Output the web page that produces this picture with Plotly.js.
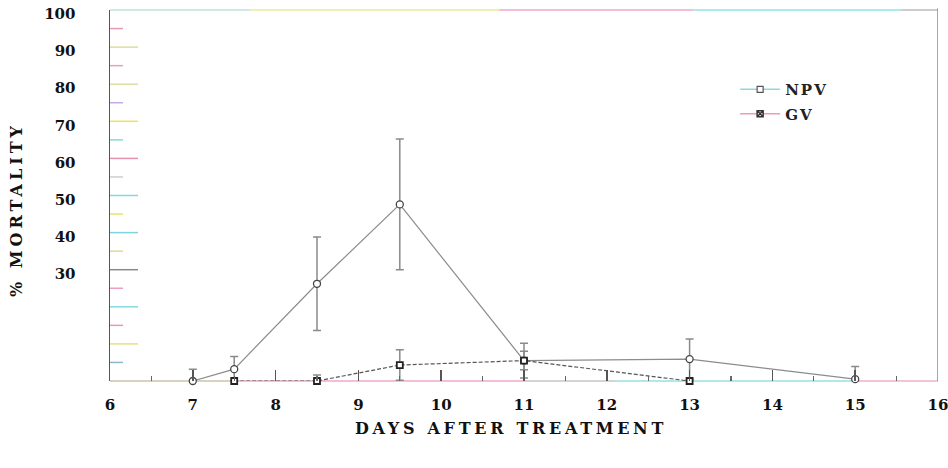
<!DOCTYPE html>
<html>
<head>
<meta charset="utf-8">
<script src="https://cdn.plot.ly/plotly-3.0.1.min.js"></script>
<style>
  html, body { margin: 0; padding: 0; background: #fff; }
  #chart { width: 948px; height: 468px; }
</style>
</head>
<body>
<div id="chart"></div>
<script>
// ---- data ----
const daysNPV = [7, 7.5, 8.5, 9.5, 11, 13, 15];
const mortNPV = [0, 3.2, 26.2, 47.6, 5.5, 5.9, 0.5];
const errNPV  = [3.2, 3.4, 12.6, 17.6, 4.7, 5.4, 3.4];

const daysGV = [7.5, 8.5, 9.5, 11, 13];
const mortGV = [0, 0, 4.3, 5.5, 0];
const errGV  = [0, 1.6, 4.1, 2.5, 0];

const xTickVals = [6, 7, 8, 9, 10, 11, 12, 13, 14, 15, 16];
const yTickVals = [30, 40, 50, 60, 70, 80, 90, 100];

// ---- decoration (scan-like coloured ticks and borders) ----
const yMarks      = [95, 90, 85, 80, 75, 70, 65, 60, 55, 50, 45, 40, 35, 30, 25, 20, 15, 10, 5];
const yMarkColors = ['#e79ab8','#dcdca0','#e3a0c4','#dedca4','#c8a8e0','#f0e060','#88d8dc','#e890b0',
                     '#cfcfcf','#80d8e0','#e8e070','#80d4e0','#e0dc90','#8a8a8a','#e8a0c0','#88d8e0',
                     '#e79ab8','#e8e080','#8ab8c8'];
const topBreaks = [6, 7.7, 10.7, 13.05, 15.55, 16];
const topColors = ['#bfe0d8', '#e8e89c', '#f2a8c8', '#8ee4e6', '#bbbbbb'];
const botBreaks = [6, 7.45, 11, 12.1, 15, 16];
const botColors = ['#c9c6a6', '#f0a8c8', '#c8c4c8', '#98dfe6', '#efb0c8'];

const serif = 'DejaVu Serif, Liberation Serif, serif';

const shapes = [];
yMarks.forEach((v, i) => {
  shapes.push({type: 'line', xref: 'x', xsizemode: 'pixel', xanchor: 6,
    x0: 0, x1: (v % 10 === 0) ? 28 : 13, yref: 'y', y0: v, y1: v,
    line: {color: yMarkColors[i], width: 1.5}, layer: 'below'});
});
for (let i = 0; i < topColors.length; i++) {
  shapes.push({type: 'line', xref: 'x', yref: 'paper', x0: topBreaks[i], x1: topBreaks[i+1],
    y0: 1, y1: 1, line: {color: topColors[i], width: 1.5}});
}
for (let i = 0; i < botColors.length; i++) {
  shapes.push({type: 'line', xref: 'x', yref: 'paper', x0: botBreaks[i], x1: botBreaks[i+1],
    y0: 0, y1: 0, line: {color: botColors[i], width: 1.6}, layer: 'below'});
}
shapes.push({type: 'line', xref: 'x', yref: 'paper', x0: 16, x1: 16, y0: 0, y1: 1.005,
  line: {color: '#8a8a8a', width: 1.5}});

const minus = (y, e) => y.map((v, i) => Math.min(v, e[i]));

const traces = [
  {x: daysNPV, y: mortNPV, name: 'NPV', type: 'scatter', mode: 'lines+markers',
   showlegend: false, legendgroup: 'npv', cliponaxis: false,
   line: {color: '#8c8c8c', width: 1.2},
   marker: {symbol: 'circle', size: 7, color: '#ffffff', line: {color: '#444', width: 1.3}},
   error_y: {type: 'data', symmetric: false, array: errNPV, arrayminus: minus(mortNPV, errNPV),
             color: '#8a8a8a', thickness: 1.5, width: 4}},
  {x: daysGV, y: mortGV, name: 'GV', type: 'scatter', mode: 'lines+markers',
   showlegend: false, legendgroup: 'gv', cliponaxis: false,
   line: {color: '#555555', width: 1.2, dash: '4px,2px'},
   marker: {symbol: 'square', size: 6, color: '#ffffff', line: {color: '#222', width: 1.8}},
   error_y: {type: 'data', symmetric: false, array: errGV, arrayminus: minus(mortGV, errGV),
             color: '#8a8a8a', thickness: 1.5, width: 4}},
  {x: [null], y: [null], name: 'NPV', type: 'scatter', mode: 'lines+markers', legendgroup: 'npv',
   line: {color: '#8fd8e0', width: 1.5},
   marker: {symbol: 'square', size: 6, color: '#ffffff', line: {color: '#555', width: 1.2}}},
  {x: [null], y: [null], name: 'GV', type: 'scatter', mode: 'lines+markers', legendgroup: 'gv',
   line: {color: '#ec9cc0', width: 1.5},
   marker: {symbol: 'square-x', size: 6, color: '#ffffff', line: {color: '#333', width: 1.5}}}
];

const layout = {
  width: 948, height: 468,
  margin: {l: 110, r: 10, t: 10, b: 87},
  paper_bgcolor: '#ffffff', plot_bgcolor: '#ffffff',
  font: {family: serif, color: '#111'},
  showlegend: true,
  legend: {x: 0.755, y: 0.83, xanchor: 'left', yanchor: 'top', bgcolor: 'rgba(0,0,0,0)',
           font: {family: serif, size: 15, weight: 700, color: '#222'}, tracegroupgap: 2, itemwidth: 40},
  xaxis: {range: [6, 16], tickmode: 'array', tickvals: xTickVals,
          showline: false, zeroline: false, showgrid: false,
          ticks: 'inside', ticklen: 11, tickwidth: 1.5, tickcolor: '#555',
          minor: {dtick: 0.5, tick0: 6, ticks: 'inside', ticklen: 5, tickwidth: 1.2, tickcolor: '#666'},
          ticklabelstandoff: 13, ticklabeloverflow: 'allow',
          tickfont: {family: serif, size: 15, weight: 700, color: '#111'},
          title: {text: 'DAYS AFTER TREATMENT', standoff: 9,
                  font: {family: serif, size: 16, weight: 700, color: '#111'}}},
  yaxis: {range: [0, 100], tickmode: 'array', tickvals: yTickVals,
          showline: true, linecolor: '#555', linewidth: 1.5, zeroline: false, showgrid: false,
          ticks: '', ticklabelstandoff: 30, ticklabelshift: 4, ticklabeloverflow: 'allow',
          tickfont: {family: serif, size: 15, weight: 700, color: '#111'},
          title: {text: '% MORTALITY', standoff: 22,
                  font: {family: serif, size: 16, weight: 700, color: '#111'}}},
  shapes: shapes
};

Plotly.newPlot('chart', traces, layout, {staticPlot: true, displayModeBar: false}).then(() => {
  document.querySelectorAll('.xtitle').forEach(t => {
    t.style.letterSpacing = '3.7px';
    t.setAttribute('transform', 'translate(-13,0) ' + (t.getAttribute('transform') || ''));
  });
  document.querySelectorAll('.ytitle').forEach(t => {
    t.style.letterSpacing = '4px';
    t.setAttribute('transform', 'translate(5,14) ' + (t.getAttribute('transform') || ''));
  });
  document.querySelectorAll('.legendtext').forEach(t => t.style.letterSpacing = '2px');
});
</script>
</body>
</html>
